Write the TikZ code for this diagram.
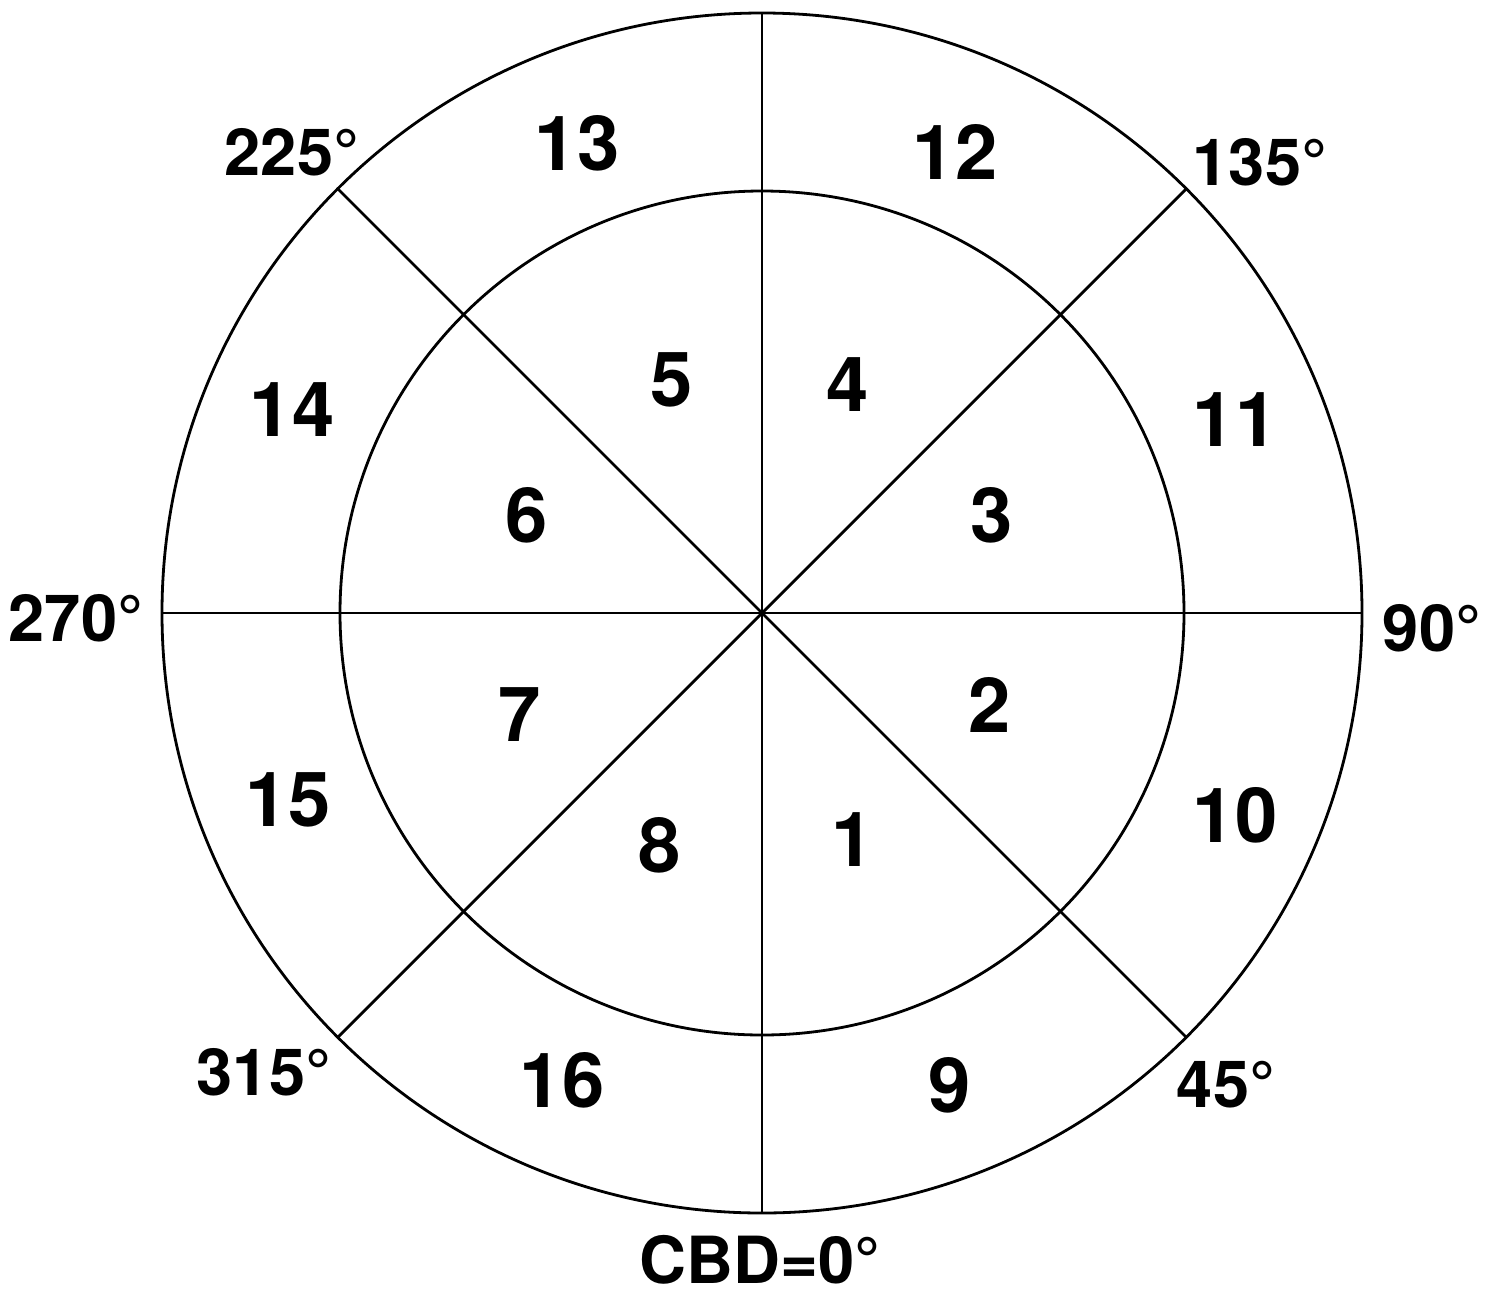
\documentclass[tikz,border=0pt]{standalone}
\usepackage{fontspec}
\setmainfont{TeX Gyre Heros}
\usetikzlibrary{calc}
\begin{document}
\begin{tikzpicture}[x=1pt,y=-1pt,
  ln/.style={line width=2.8pt,black},
  num/.style={font=\fontsize{76}{76}\selectfont\bfseries},
  ang/.style={font=\fontsize{65}{65}\selectfont\bfseries}]
\useasboundingbox (0,0) rectangle (1495,1298);
\coordinate (c) at (762,613);
\draw[ln] (c) circle (600);
\draw[ln] (c) circle (422);
\foreach \a/\n in {0/e,45/se,90/s,135/sw,180/w,225/nw,270/n,315/ne}{
  \coordinate (p\n) at ($(c)+(\a:600)$);
}
\draw[ln] (pn) -- (ps);
\draw[ln] (pe) -- (pw);
\draw[ln] (pne) -- (psw);
\draw[ln] (pnw) -- (pse);
\node[num] (n13) at (577,143) {13};
\node[num] (n12) at (955,152) {12};
\node[num] (n5) at (672,380) {5};
\node[num] (n4) at (848,385) {4};
\node[num] (n14) at (292,410) {14};
\node[num] (n11) at (1235,420) {11};
\node[num] (n6) at (527,515) {6};
\node[num] (n3) at (992,515) {3};
\node[num] (n7) at (520,715) {7};
\node[num] (n2) at (990,705) {2};
\node[num] (n15) at (288,800) {15};
\node[num] (n10) at (1235,815) {10};
\node[num] (n8) at (660,845) {8};
\node[num] (n1) at (853,840) {1};
\node[num] (n16) at (562,1080) {16};
\node[num] (n9) at (950,1085) {9};
\node[ang] (a225) at (292,152) {225°};
\node[ang] (a135) at (1260,162) {135°};
\node[ang] (a270) at (76,618) {270°};
\node[ang] (a90) at (1432,628) {90°};
\node[ang] (a315) at (264,1072) {315°};
\node[ang] (a45) at (1226,1085) {45°};
\node[ang] (cbd) at (760,1260) {CBD=0°};
\end{tikzpicture}
\end{document}
